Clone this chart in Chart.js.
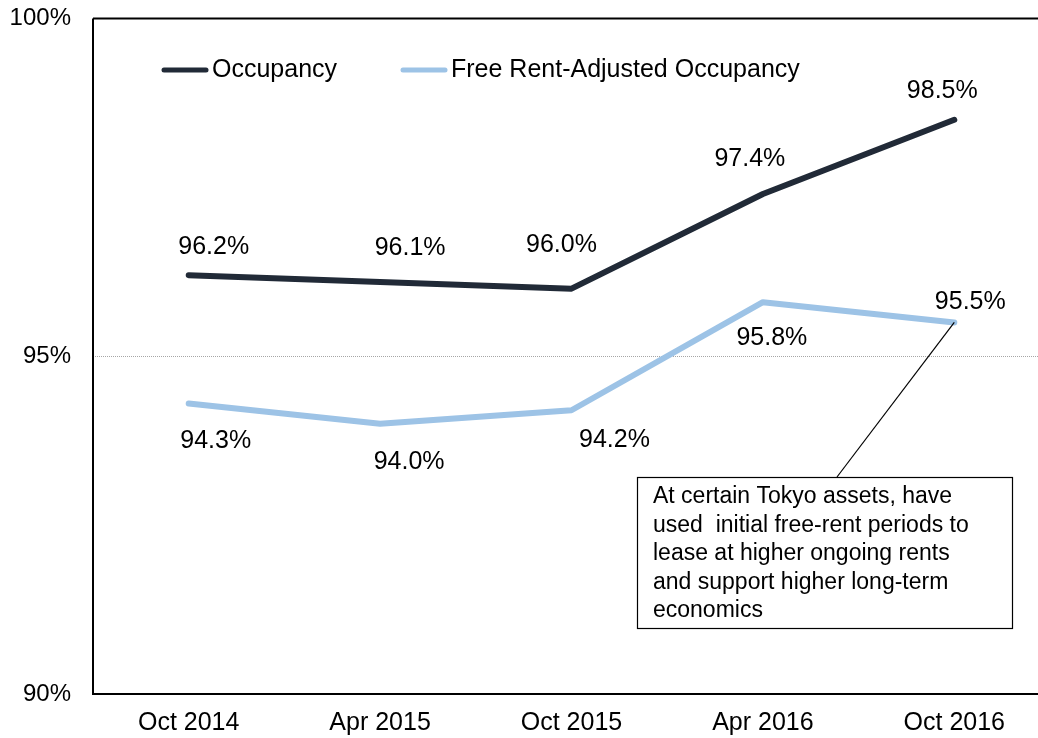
<!DOCTYPE html>
<html>
<head>
<meta charset="utf-8">
<script src="https://cdn.jsdelivr.net/npm/chart.js@4"></script>
<style>
  html, body { margin: 0; padding: 0; background: #fff; overflow: hidden; }
  #wrap { width: 1050px; height: 756px; margin-top: -18px; }
</style>
</head>
<body>
<div id="wrap"><canvas id="grafico"></canvas></div>
<script>
const periodos = ['Oct 2014', 'Apr 2015', 'Oct 2015', 'Apr 2016', 'Oct 2016'];
const ocupacion = [96.2, 96.1, 96.0, 97.4, 98.5];
const ocupacionAjustada = [94.3, 94.0, 94.2, 95.8, 95.5];
const ticksY = [90, 95, 100];
const nota = [
  'At certain Tokyo assets, have',
  'used  initial free-rent periods to',
  'lease at higher ongoing rents',
  'and support higher long-term',
  'economics'
];

// desplazamiento de las etiquetas respecto al punto (px)
const offsOcup = [[25, -28], [30, -34], [-10, -44], [-13, -35], [-12, -29]];
const offsAjust = [[27, 38], [29, 38], [43, 30], [9, 36], [16, -20]];

const FUENTE = '"Liberation Sans", Arial, sans-serif';
const colorOscuro = '#212a37';
const colorClaro = '#9dc3e6';
const DY = 18; // el lienzo sube 18px

const decorado = {
  id: 'decorado',
  beforeDatasetsDraw(chart) {
    const { ctx, chartArea: a } = chart;
    ctx.save();
    ctx.strokeStyle = '#000';
    ctx.lineWidth = 2;
    ctx.beginPath();
    ctx.moveTo(a.left, a.top);
    ctx.lineTo(a.right, a.top);
    ctx.moveTo(a.left, a.top);
    ctx.lineTo(a.left, a.bottom);
    ctx.lineTo(a.right, a.bottom);
    ctx.stroke();
    ctx.restore();
  },
  afterDatasetsDraw(chart) {
    const { ctx } = chart;
    ctx.save();
    ctx.font = '25px ' + FUENTE;
    ctx.fillStyle = '#000';
    ctx.textAlign = 'center';
    ctx.textBaseline = 'middle';
    const m0 = chart.getDatasetMeta(0).data;
    const m1 = chart.getDatasetMeta(1).data;
    ocupacion.forEach((v, i) => {
      ctx.fillText(v.toFixed(1) + '%', m0[i].x + offsOcup[i][0], m0[i].y + offsOcup[i][1]);
    });
    ocupacionAjustada.forEach((v, i) => {
      ctx.fillText(v.toFixed(1) + '%', m1[i].x + offsAjust[i][0], m1[i].y + offsAjust[i][1]);
    });

    // linea guia y cuadro de nota
    const p = m1[m1.length - 1];
    const caja = { x: 637, y: 477 + DY, w: 375, h: 151 };
    ctx.strokeStyle = '#000';
    ctx.lineWidth = 1.2;
    ctx.beginPath();
    ctx.moveTo(p.x, p.y);
    ctx.lineTo(837, caja.y);
    ctx.stroke();
    ctx.fillStyle = '#fff';
    ctx.fillRect(caja.x, caja.y, caja.w, caja.h);
    ctx.strokeRect(caja.x + 0.5, caja.y + 0.5, caja.w, caja.h);
    ctx.fillStyle = '#000';
    ctx.font = '23px ' + FUENTE;
    ctx.textAlign = 'left';
    nota.forEach((t, i) => ctx.fillText(t, 653, 497 + DY + i * 28.5));

    // leyenda
    const items = [
      { x: 164, color: colorOscuro, texto: chart.data.datasets[0].label },
      { x: 403, color: colorClaro, texto: chart.data.datasets[1].label }
    ];
    ctx.font = '25px ' + FUENTE;
    ctx.lineCap = 'round';
    ctx.lineWidth = 5;
    items.forEach(it => {
      ctx.strokeStyle = it.color;
      ctx.beginPath();
      ctx.moveTo(it.x, 70 + DY);
      ctx.lineTo(it.x + 42, 70 + DY);
      ctx.stroke();
      ctx.fillText(it.texto, it.x + 48, 70 + DY);
    });
    ctx.restore();
  }
};

new Chart(document.getElementById('grafico'), {
  type: 'line',
  data: {
    labels: periodos,
    datasets: [
      {
        label: 'Occupancy',
        data: ocupacion,
        borderColor: colorOscuro,
        borderWidth: 6,
        borderCapStyle: 'round',
        borderJoinStyle: 'round',
        pointRadius: 0,
        tension: 0
      },
      {
        label: 'Free Rent-Adjusted Occupancy',
        data: ocupacionAjustada,
        borderColor: colorClaro,
        borderWidth: 6,
        borderCapStyle: 'round',
        borderJoinStyle: 'round',
        pointRadius: 0,
        tension: 0
      }
    ]
  },
  options: {
    responsive: true,
    maintainAspectRatio: false,
    animation: false,
    layout: { padding: 0 },
    plugins: {
      legend: { display: false },
      tooltip: { enabled: false }
    },
    scales: {
      x: {
        offset: true,
        grid: { display: false, drawTicks: false },
        border: { display: false },
        ticks: { color: '#000', padding: 14, font: { family: FUENTE, size: 25 }, maxRotation: 0 },
        afterFit: s => { s.height = 44; }
      },
      y: {
        min: 90,
        max: 100,
        afterBuildTicks: s => { s.ticks = ticksY.map(v => ({ value: v })); },
        grid: {
          drawTicks: false,
          color: c => c.tick && c.tick.value === 95 ? '#a6a6a6' : 'rgba(0,0,0,0)',
          lineWidth: 1
        },
        border: { display: false, dash: [1, 1] },
        ticks: {
          color: '#000',
          padding: 22,
          font: { family: FUENTE, size: 24 },
          callback: v => v + '%'
        },
        afterFit: s => { s.width = 93; }
      }
    }
  },
  plugins: [decorado]
});
</script>
</body>
</html>
